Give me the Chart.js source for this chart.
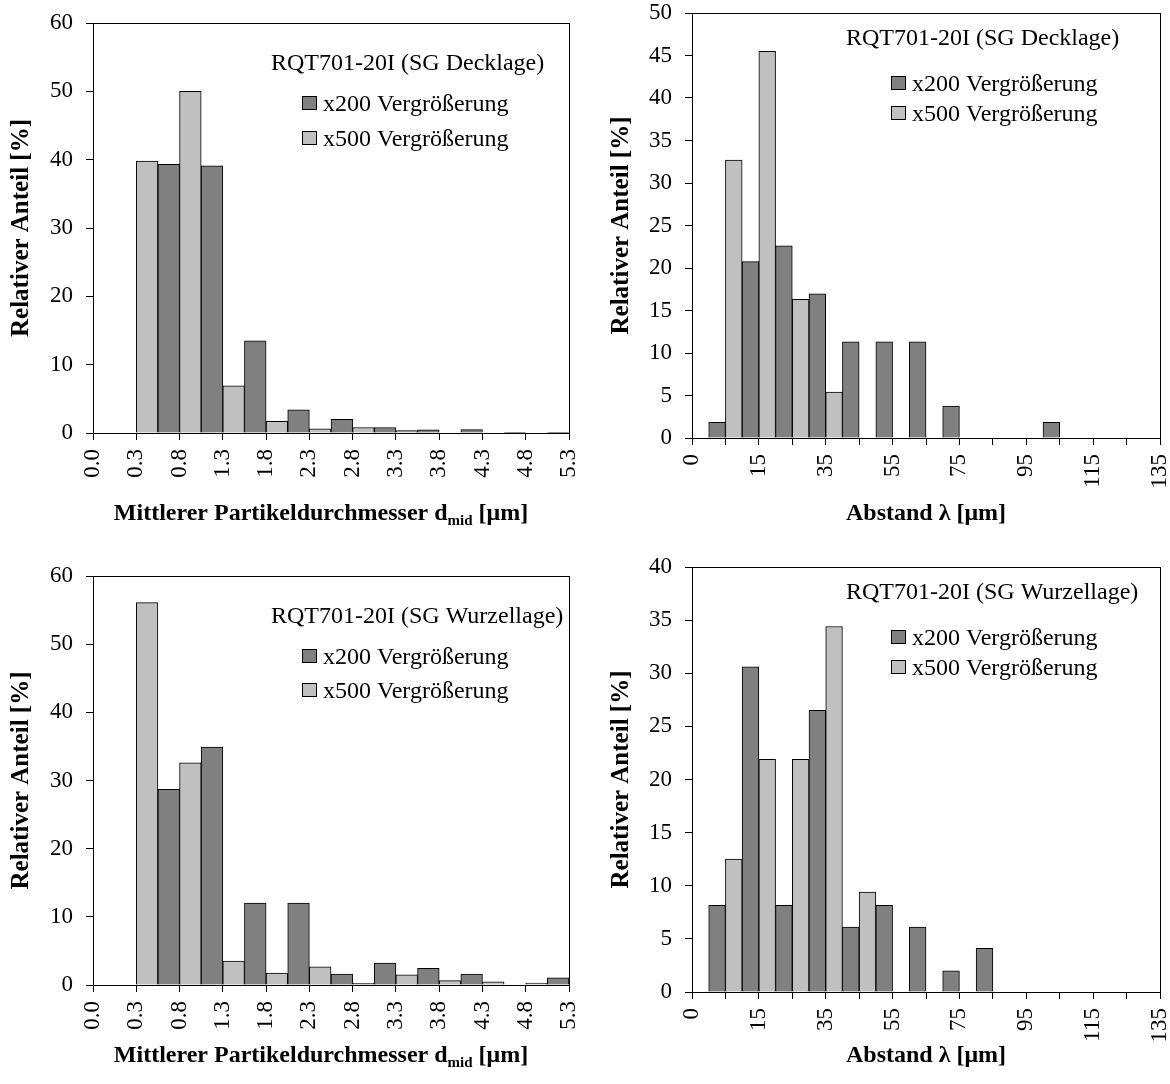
<!DOCTYPE html>
<html>
<head>
<meta charset="utf-8">
<script src="https://cdn.jsdelivr.net/npm/chart.js@4.4.1/dist/chart.umd.min.js"></script>
<style>
  body { margin: 0; background: #fff; }
  #wrap { position: relative; width: 1170px; height: 1084px; }
  canvas { position: absolute; }
</style>
</head>
<body>
<div id="wrap">
  <canvas id="chartTL" width="585" height="542" style="left:0;top:0"></canvas>
  <canvas id="chartTR" width="585" height="542" style="left:585px;top:0"></canvas>
  <canvas id="chartBL" width="585" height="542" style="left:0;top:542px"></canvas>
  <canvas id="chartBR" width="585" height="542" style="left:585px;top:542px"></canvas>
</div>
<script>
// Klassen der Partikeldurchmesser (links) und der Abstände (rechts)
const diameterLabels = ["0.0", "0.3", "0.8", "1.3", "1.8", "2.3", "2.8", "3.3", "3.8", "4.3", "4.8", "5.3"];
const distanceLabels = ["0", "5", "15", "25", "35", "45", "55", "65", "75", "85", "95", "105", "115", "125", "135"];

// SG Decklage
const deckDiameterX200 = [0, 0, 39.3, 39.1, 13.5, 3.4, 2.0, 0.8, 0.45, 0.5, 0.1, 0.1];
const deckDiameterX500 = [0, 39.8, 50.0, 6.9, 1.7, 0.6, 0.8, 0.35, 0, 0, 0, 0];
const deckDistanceX200 = [0, 1.85, 20.75, 22.6, 16.95, 11.3, 11.3, 11.3, 3.75, 0, 0, 1.85, 0, 0, 0];
const deckDistanceX500 = [0, 32.7, 45.5, 16.3, 5.4, 0, 0, 0, 0, 0, 0, 0, 0, 0, 0];

// SG Wurzellage
const wurzelDiameterX200 = [0, 0, 28.7, 34.9, 12.0, 12.0, 1.6, 3.2, 2.45, 1.6, 0, 1.05];
const wurzelDiameterX500 = [0, 56.1, 32.6, 3.5, 1.75, 2.65, 0.25, 1.5, 0.65, 0.45, 0.3, 0];
const wurzelDistanceX200 = [0, 8.15, 30.6, 8.15, 26.5, 6.1, 8.15, 6.1, 2.0, 4.1, 0, 0, 0, 0, 0];
const wurzelDistanceX500 = [0, 12.5, 21.9, 21.9, 34.4, 9.4, 0, 0, 0, 0, 0, 0, 0, 0, 0];

const FONT = '"Liberation Serif", "Times New Roman", serif';
const W = 585, H = 542;

// Rahmen, Legende im Diagramm und x-Achsentitel (mit Index)
const panelDecor = {
    id: "panelDecor",
    afterDraw(chart, args, opts) {
        const ctx = chart.ctx;
        const a = chart.chartArea;
        ctx.save();
        ctx.strokeStyle = "#000";
        ctx.lineWidth = 1;
        ctx.strokeRect(a.left + 0.5, a.top + 0.5, a.right - a.left, a.bottom - a.top);

        ctx.font = opts.legendSize + "px " + FONT;
        ctx.fillStyle = "#000";
        ctx.textAlign = "left";
        ctx.textBaseline = "alphabetic";
        ctx.fillText(opts.title, a.left + opts.titleX, a.top + opts.titleY);

        chart.data.datasets.forEach((ds, i) => {
            const bx = a.left + opts.boxX;
            const by = a.top + opts.boxY + i * opts.rowGap;
            ctx.fillStyle = ds.backgroundColor;
            ctx.fillRect(bx, by, 15, 14);
            ctx.strokeRect(bx + 0.5, by + 0.5, 14, 13);
            ctx.fillStyle = "#000";
            ctx.fillText(ds.label, bx + 21, by + 15);
        });

        // x-Achsentitel
        const big = "bold 24px " + FONT, small = "bold 15px " + FONT;
        let total = 0;
        opts.xTitle.forEach(p => {
            ctx.font = p.sub ? small : big;
            p.w = ctx.measureText(p.text).width;
            total += p.w;
        });
        let x = opts.xTitleCenter - total / 2;
        opts.xTitle.forEach(p => {
            ctx.font = p.sub ? small : big;
            ctx.fillText(p.text, x, opts.xTitleY + (p.sub ? 5 : 0));
            x += p.w;
        });
        ctx.restore();
    }
};

function makeChart(id, cfg) {
    const ctx = document.getElementById(id).getContext("2d");
    return new Chart(ctx, {
        type: "bar",
        data: {
            labels: cfg.labels,
            datasets: [
                {
                    label: "x200 Vergrößerung",
                    data: cfg.x200,
                    backgroundColor: "#808080",
                    borderColor: "#000",
                    borderWidth: 1,
                    categoryPercentage: 1,
                    barPercentage: 1
                },
                {
                    label: "x500 Vergrößerung",
                    data: cfg.x500,
                    backgroundColor: "#c0c0c0",
                    borderColor: "#000",
                    borderWidth: 1,
                    categoryPercentage: 1,
                    barPercentage: 1
                }
            ]
        },
        options: {
            responsive: false,
            animation: false,
            events: [],
            layout: {
                padding: { left: 0, top: cfg.area.top, right: W - cfg.area.right, bottom: 0 }
            },
            plugins: {
                legend: { display: false },
                tooltip: { enabled: false },
                panelDecor: cfg.decor
            },
            scales: {
                x: {
                    offset: false,
                    grid: { offset: false, drawOnChartArea: false, drawTicks: true, tickLength: 7, color: "#000" },
                    border: { display: true, color: "#000" },
                    ticks: {
                        autoSkip: false,
                        minRotation: 90,
                        maxRotation: 90,
                        padding: 9,
                        color: "#000",
                        font: { family: FONT, size: 23 },
                        callback: function(value, index) {
                            return index % cfg.labelEvery === 0 ? cfg.labels[index] : "";
                        }
                    },
                    afterFit: function(scale) {
                        scale.height = H - cfg.area.bottom;
                        scale.paddingLeft = 0;
                        scale.paddingRight = 0;
                    }
                },
                y: {
                    min: 0,
                    max: cfg.yMax,
                    grid: { drawOnChartArea: false, drawTicks: true, tickLength: 7, color: "#000" },
                    border: { display: true, color: "#000" },
                    ticks: {
                        stepSize: cfg.yStep,
                        padding: 13,
                        color: "#000",
                        font: { family: FONT, size: 23 }
                    },
                    title: {
                        display: true,
                        text: "Relativer Anteil [%]",
                        color: "#000",
                        font: { family: FONT, size: 25, weight: "bold" },
                        padding: { top: cfg.yTitlePad, bottom: 0 }
                    },
                    afterFit: function(scale) {
                        scale.width = cfg.area.left;
                        scale.paddingTop = 0;
                        scale.paddingBottom = 0;
                    }
                }
            }
        },
        plugins: [panelDecor]
    });
}

const diameterTitle = [
    { text: "Mittlerer Partikeldurchmesser d" },
    { text: "mid", sub: true },
    { text: " [μm]" }
];
const distanceTitle = [{ text: "Abstand λ [μm]" }];

makeChart("chartTL", {
    labels: diameterLabels, labelEvery: 1,
    x200: deckDiameterX200, x500: deckDiameterX500,
    yMax: 60, yStep: 10, yTitlePad: 7,
    area: { left: 93, top: 23, right: 569, bottom: 433 },
    decor: { title: "RQT701-20I (SG Decklage)", legendSize: 24,
             titleX: 178, titleY: 47, boxX: 209, boxY: 73, rowGap: 35,
             xTitle: diameterTitle, xTitleCenter: 321, xTitleY: 520 }
});

makeChart("chartTR", {
    labels: distanceLabels, labelEvery: 2,
    x200: deckDistanceX200, x500: deckDistanceX500,
    yMax: 50, yStep: 5, yTitlePad: 22,
    area: { left: 107, top: 13, right: 575, bottom: 438 },
    decor: { title: "RQT701-20I (SG Decklage)", legendSize: 24,
             titleX: 154, titleY: 32, boxX: 199, boxY: 63, rowGap: 30,
             xTitle: distanceTitle, xTitleCenter: 341, xTitleY: 520 }
});

makeChart("chartBL", {
    labels: diameterLabels, labelEvery: 1,
    x200: wurzelDiameterX200, x500: wurzelDiameterX500,
    yMax: 60, yStep: 10, yTitlePad: 7,
    area: { left: 93, top: 34, right: 569, bottom: 443 },
    decor: { title: "RQT701-20I (SG Wurzellage)", legendSize: 24,
             titleX: 178, titleY: 47, boxX: 209, boxY: 73, rowGap: 34,
             xTitle: diameterTitle, xTitleCenter: 321, xTitleY: 520 }
});

makeChart("chartBR", {
    labels: distanceLabels, labelEvery: 2,
    x200: wurzelDistanceX200, x500: wurzelDistanceX500,
    yMax: 40, yStep: 5, yTitlePad: 22,
    area: { left: 107, top: 25, right: 575, bottom: 450 },
    decor: { title: "RQT701-20I (SG Wurzellage)", legendSize: 24,
             titleX: 154, titleY: 32, boxX: 199, boxY: 63, rowGap: 30,
             xTitle: distanceTitle, xTitleCenter: 341, xTitleY: 520 }
});
</script>
</body>
</html>
